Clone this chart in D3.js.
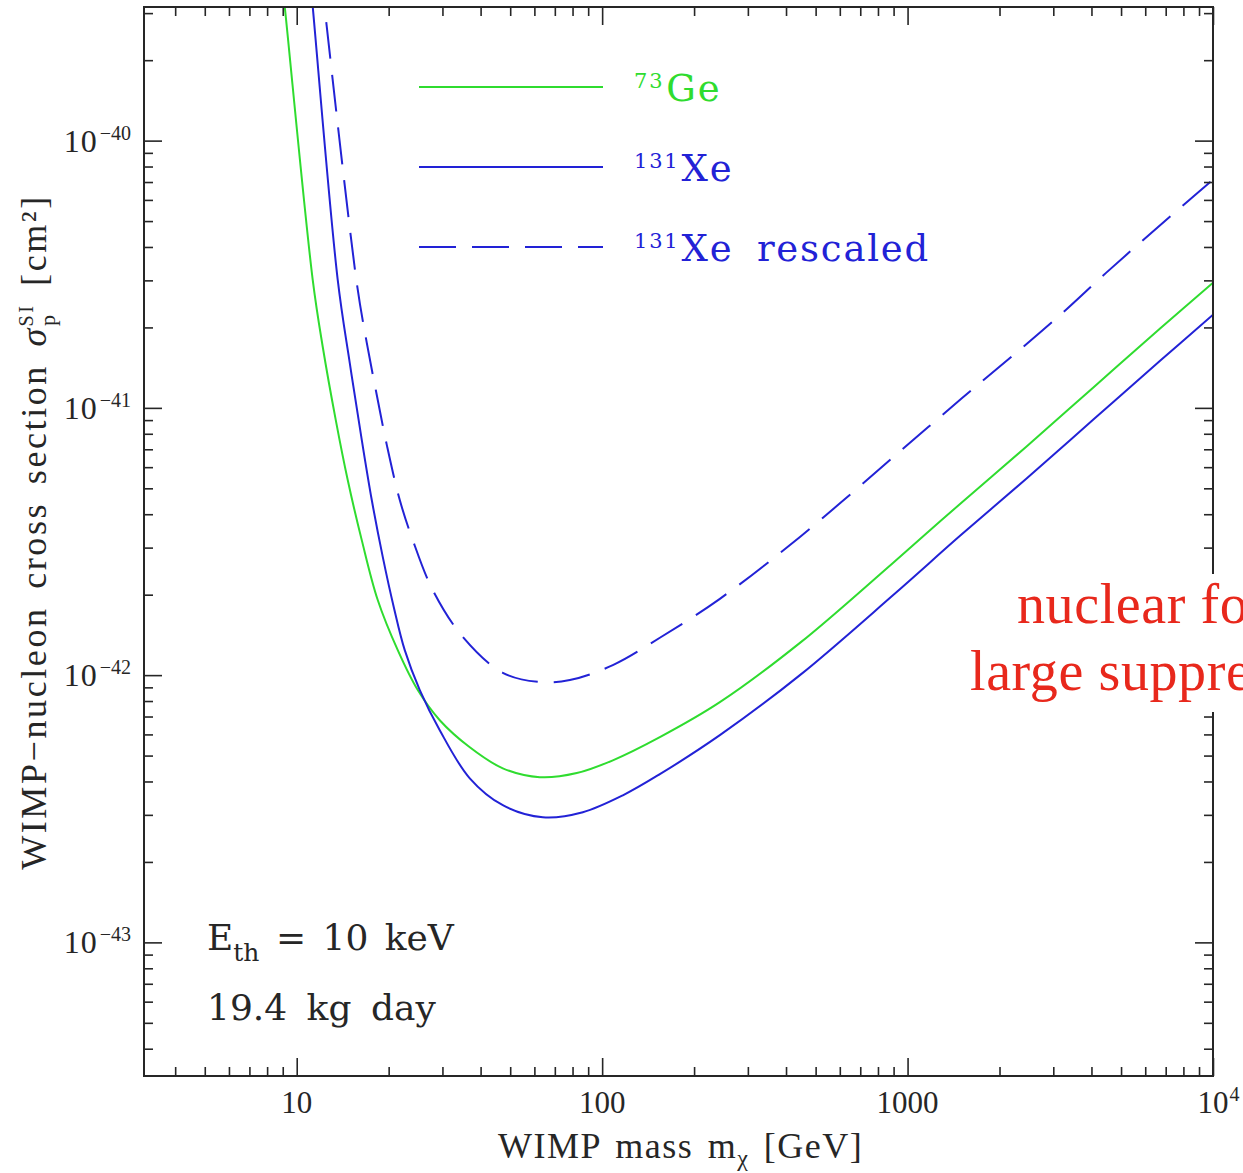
<!DOCTYPE html>
<html>
<head>
<meta charset="utf-8">
<script src="https://cdn.jsdelivr.net/npm/d3@7"></script>
<style>
body { margin: 0; background: #fff; }
text { font-family: "Liberation Serif", "Times New Roman", serif; }
.wide { font-family: "DejaVu Serif", serif; }
</style>
</head>
<body>
<script>
// values: WIMP mass [GeV] and cross section [cm^2]
var massGe = [8.86, 9.135, 11.28, 12.17, 13.42, 14.69, 16.33, 18.42, 21.42, 24.91, 29.40, 36.87, 47.29, 62.5, 82.6, 108.4, 154.5, 242.9, 444.2, 895.6, 1485, 2442, 4049, 6710, 10000];
var sigmaGe = [4.37e-40, 3.18e-40, 3.02e-41, 1.69e-41, 9.02e-42, 5.37e-42, 3.20e-42, 1.91e-42, 1.24e-42, 8.79e-43, 6.78e-43, 5.37e-43, 4.48e-43, 4.15e-43, 4.30e-43, 4.80e-43, 5.86e-43, 7.92e-43, 1.32e-42, 2.63e-42, 4.37e-42, 7.14e-42, 1.19e-41, 1.98e-41, 2.94e-41];

var massXe = [10.99, 11.28, 13.62, 14.92, 16.33, 17.61, 19.13, 20.78, 22.58, 25.29, 29.40, 36.87, 47.29, 63.93, 86.46, 116.9, 154.5, 242.9, 444.2, 895.6, 1485, 2442, 4049, 6710, 10000];
var sigmaXe = [4.37e-40, 3.18e-40, 3.02e-41, 1.47e-41, 7.59e-42, 4.52e-42, 2.77e-42, 1.80e-42, 1.24e-42, 8.79e-43, 6.22e-43, 4.11e-43, 3.26e-43, 2.94e-43, 3.07e-43, 3.55e-43, 4.26e-43, 5.96e-43, 1.00e-42, 1.99e-42, 3.32e-42, 5.42e-42, 9.02e-42, 1.50e-41, 2.23e-41];

var massXeResc = [11.96, 15.72, 16.96, 18.28, 19.72, 21.75, 23.99, 27.89, 34.98, 47.29, 62.5, 78.4, 108.4, 154.5, 242.9, 444.2, 916.2, 1277, 1727, 2388, 3303, 4465, 8166, 10000];
var sigmaXeResc = [4.37e-40, 2.94e-41, 1.75e-41, 1.12e-41, 7.27e-42, 4.52e-42, 3.20e-42, 2.08e-42, 1.39e-42, 1.02e-42, 9.42e-43, 9.58e-43, 1.09e-42, 1.38e-42, 1.93e-42, 3.29e-42, 6.67e-42, 9.25e-42, 1.24e-41, 1.69e-41, 2.33e-41, 3.20e-41, 5.86e-41, 7.14e-41];

// axis ticks and labels
var xMajor = [10, 100, 1000, 10000];
var xMajorText = ["10", "100", "1000", "10"];
var xMajorSup = ["", "", "", "4"];
var yMajor = [1e-40, 1e-41, 1e-42, 1e-43];
var yMajorSup = ["\u221240", "\u221241", "\u221242", "\u221243"];

// legend
var legendIso = ["73", "131", "131"];
var legendName = ["Ge", "Xe", "Xe rescaled"];

var width = 1243, height = 1173;
var plotL = 144, plotR = 1213, plotT = 7, plotB = 1076;
var green = "#2fdc2f", blue = "#2222d6", red = "#e8281c", ink = "#262626";

var svg = d3.select("body").append("svg")
    .attr("width", width)
    .attr("height", height);

var x = d3.scaleLog().domain([Math.pow(10, 0.5), 1e4]).range([plotL, plotR]);
var y = d3.scaleLog().domain([Math.pow(10, -43.5), Math.pow(10, -39.5)]).range([plotB, plotT]);

function isMajor(v) { var l = Math.log10(v); return Math.abs(l - Math.round(l)) < 1e-6; }
var xMinor = x.ticks(20).filter(v => !isMajor(v));
var yMinor = y.ticks(20).filter(v => !isMajor(v));

svg.append("clipPath").attr("id", "plotclip")
    .append("rect").attr("x", plotL).attr("y", plotT).attr("width", plotR - plotL).attr("height", plotB - plotT);

// curves
var line = d3.line()
    .x(d => x(d[0]))
    .y(d => y(d[1]))
    .curve(d3.curveCatmullRom.alpha(0.5));

var curves = [
    {m: massGe, s: sigmaGe, color: green, dash: null},
    {m: massXe, s: sigmaXe, color: blue, dash: null},
    {m: massXeResc, s: sigmaXeResc, color: blue, dash: "37,16"}
];
var gc = svg.append("g").attr("clip-path", "url(#plotclip)");
curves.forEach(function(c) {
    var pts = c.m.map((m, i) => [m, c.s[i]]);
    gc.append("path")
        .attr("d", line(pts))
        .attr("fill", "none")
        .attr("stroke", c.color)
        .attr("stroke-width", 2)
        .attr("stroke-dasharray", c.dash);
});

// ticks on all four sides, pointing inwards
function tickGroup(axis, tx, ty) {
    var g = svg.append("g").attr("transform", "translate(" + tx + "," + ty + ")").call(axis);
    g.select(".domain").remove();
    g.selectAll("line").attr("stroke", ink).attr("stroke-width", 1.6);
    g.selectAll("text").remove();
}
var majLen = 18, minLen = 9;
tickGroup(d3.axisBottom(x).tickValues(xMajor).tickSize(-majLen), 0, plotB);
tickGroup(d3.axisBottom(x).tickValues(xMinor).tickSize(-minLen), 0, plotB);
tickGroup(d3.axisTop(x).tickValues(xMajor).tickSize(-majLen), 0, plotT);
tickGroup(d3.axisTop(x).tickValues(xMinor).tickSize(-minLen), 0, plotT);
tickGroup(d3.axisLeft(y).tickValues(yMajor).tickSize(-majLen), plotL, 0);
tickGroup(d3.axisLeft(y).tickValues(yMinor).tickSize(-minLen), plotL, 0);
tickGroup(d3.axisRight(y).tickValues(yMajor).tickSize(-majLen), plotR, 0);
tickGroup(d3.axisRight(y).tickValues(yMinor).tickSize(-minLen), plotR, 0);

// frame
svg.append("rect")
    .attr("x", plotL).attr("y", plotT)
    .attr("width", plotR - plotL).attr("height", plotB - plotT)
    .attr("fill", "none").attr("stroke", ink).attr("stroke-width", 2);

// x tick labels
xMajor.forEach(function(v, i) {
    var t = svg.append("text")
        .attr("x", x(v)).attr("y", 1113)
        .attr("text-anchor", "middle")
        .attr("font-size", 31).attr("fill", ink)
        .text(xMajorText[i]);
    if (xMajorSup[i]) {
        var w = t.node().getComputedTextLength();
        svg.append("text")
            .attr("x", x(v) + w / 2 + 1).attr("y", 1101)
            .attr("font-size", 20).attr("fill", ink)
            .text(xMajorSup[i]);
    }
});

// y tick labels
yMajor.forEach(function(v, i) {
    var t = svg.append("text")
        .attr("x", 131).attr("y", y(v) + 11)
        .attr("text-anchor", "end")
        .attr("fill", ink);
    t.append("tspan").attr("font-size", 32).attr("letter-spacing", 1).text("10");
    t.append("tspan").attr("font-size", 20).attr("dy", -12).attr("dx", 2).text(yMajorSup[i]);
});

// axis titles
var xt = svg.append("text")
    .attr("x", 498).attr("y", 1158)
    .attr("font-size", 36).attr("fill", ink)
    .attr("letter-spacing", 1.5).attr("word-spacing", 4);
xt.append("tspan").text("WIMP mass m");
xt.append("tspan").attr("font-size", 24).attr("dy", 8).text("\u03c7");
xt.append("tspan").attr("dy", -8).text(" [GeV]");

var yt = svg.append("text")
    .attr("transform", "translate(46,532) rotate(-90)")
    .attr("text-anchor", "middle")
    .attr("font-size", 36).attr("fill", ink)
    .attr("letter-spacing", 2.6).attr("word-spacing", 6);
yt.append("tspan").text("WIMP\u2212nucleon cross section ");
yt.append("tspan").attr("font-style", "italic").text("\u03c3");
yt.append("tspan").attr("font-size", 22).attr("dy", 9).text("p");
yt.append("tspan").attr("font-size", 20).attr("dx", -14).attr("dy", -22).text("SI");
yt.append("tspan").attr("dy", 13).text(" [cm\u00b2]");

// legend
var legendY = [87, 167, 247];
curves.forEach(function(c, i) {
    svg.append("line")
        .attr("x1", 419).attr("x2", 603)
        .attr("y1", legendY[i]).attr("y2", legendY[i])
        .attr("stroke", c.color).attr("stroke-width", 2)
        .attr("stroke-dasharray", c.dash);
    var t = svg.append("text")
        .attr("class", "wide")
        .attr("x", 634).attr("y", legendY[i] + 14)
        .attr("fill", c.color)
        .attr("letter-spacing", 1.8).attr("word-spacing", 10);
    t.append("tspan").attr("font-size", 21).attr("dy", -13).text(legendIso[i]);
    t.append("tspan").attr("font-size", 37).attr("dy", 13).attr("dx", 2).text(legendName[i]);
});

// run conditions
var ann = svg.append("g").attr("fill", ink);
var a1 = ann.append("text").attr("class", "wide").attr("x", 207).attr("y", 950)
    .attr("font-size", 36).attr("word-spacing", 5);
a1.append("tspan").text("E");
a1.append("tspan").attr("font-size", 25).attr("dy", 11).text("th");
a1.append("tspan").attr("dy", -11).text(" = 10 keV");
ann.append("text").attr("class", "wide").attr("x", 207).attr("y", 1020)
    .attr("font-size", 36).attr("word-spacing", 8)
    .text("19.4 kg day");

// red overlay note (cut at the right edge, as in the original slide)
svg.append("rect")
    .attr("x", 958).attr("y", 574)
    .attr("width", width - 958).attr("height", 138)
    .attr("fill", "#fff");
svg.append("text").attr("x", 1017).attr("y", 623)
    .attr("font-size", 56).attr("letter-spacing", 0.6).attr("fill", red)
    .text("nuclear form factor");
svg.append("text").attr("x", 970).attr("y", 690)
    .attr("font-size", 56).attr("letter-spacing", 0.6).attr("fill", red)
    .text("large suppression");
</script>
</body>
</html>
